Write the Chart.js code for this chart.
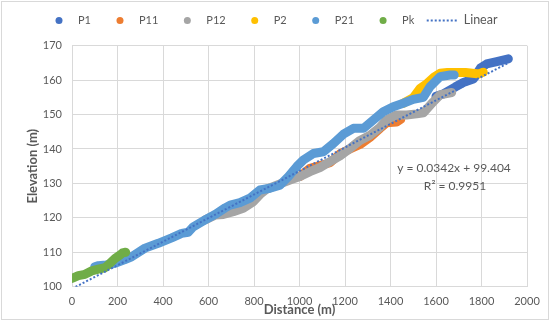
<!DOCTYPE html>
<html><head><meta charset="utf-8">
<script src="https://cdn.jsdelivr.net/npm/chart.js@4"></script>
<style>html,body{margin:0;padding:0;background:#fff;}#wrap{width:550px;height:323px;position:relative;}</style>
</head><body><div id="wrap"><canvas id="c" width="550" height="323"></canvas></div>
<script>
// ---- data ----
const seriesNames = ['P1', 'P11', 'P12', 'P2', 'P21', 'Pk'];
const seriesColors = ['#4472C4', '#ED7D31', '#A5A5A5', '#FFC000', '#5B9BD5', '#70AD47'];

const p1X = [1600, 1632, 1684, 1720, 1764, 1795, 1823, 1867, 1918];
const p1Y = [155.3, 156.0, 158.0, 159.3, 160.3, 163.5, 164.7, 165.4, 166.2];

const p11X = [1002, 1046, 1090, 1134, 1178, 1222, 1266, 1310, 1354, 1383, 1427, 1445];
const p11Y = [132.0, 134.4, 135.2, 136.0, 138.6, 140.0, 141.3, 143.4, 146.0, 147.6, 147.8, 148.6];

const p12X = [585, 629, 665, 709, 753, 797, 830, 855, 900, 958, 1002, 1046, 1090, 1134, 1178, 1222, 1266, 1310, 1354, 1383, 1427, 1471, 1515, 1545, 1588, 1618, 1669];
const p12Y = [119.4, 120.8, 121.0, 121.8, 122.8, 124.7, 127.0, 128.3, 129.5, 131.0, 132.0, 133.4, 134.6, 136.3, 138.0, 140.2, 142.5, 144.0, 146.3, 148.5, 149.9, 149.9, 150.2, 150.5, 153.7, 155.7, 156.4];

const p2X = [1456, 1500, 1530, 1560, 1590, 1618, 1650, 1690, 1730, 1760, 1790, 1808];
const p2Y = [153.3, 154.9, 157.6, 159.0, 160.8, 162.0, 162.2, 162.2, 162.2, 162.0, 161.8, 162.3];

const p21X = [100, 116, 150, 189, 230, 262, 321, 379, 438, 482, 511, 533, 585, 629, 673, 695, 738, 782, 826, 870, 914, 951, 988, 1017, 1061, 1105, 1149, 1193, 1237, 1281, 1324, 1368, 1412, 1456, 1500, 1544, 1574, 1618, 1662, 1680];
const p21Y = [105.8, 106.1, 106.3, 106.8, 107.8, 108.7, 111.2, 112.6, 114.2, 115.5, 115.8, 117.4, 119.4, 121.0, 122.9, 123.7, 124.4, 125.7, 128.1, 128.6, 129.5, 132.0, 134.9, 136.8, 138.7, 139.2, 141.6, 144.3, 146.0, 146.0, 148.4, 150.8, 152.3, 153.3, 154.4, 155.0, 158.1, 161.0, 161.5, 161.5];

const pkX = [0, 28, 57, 87, 116, 145, 167, 189, 211, 222, 236];
const pkY = [102.4, 103.2, 103.6, 104.6, 105.1, 105.5, 106.8, 108.2, 109.2, 109.8, 110.0];

const trendX = [0, 1918];
const trendY = [99.404, 165.0];
const trendLabel = 'Linear';
const equationText = 'y = 0.0342x + 99.404';
const r2Text = 'R\u00B2 = 0.9951';

const xTicks = [0, 200, 400, 600, 800, 1000, 1200, 1400, 1600, 1800, 2000];
const yTicks = [100, 110, 120, 130, 140, 150, 160, 170];
const xTitle = 'Distance (m)';
const yTitle = 'Elevation (m)';

// ---- build ----
const seriesXs = [p1X, p11X, p12X, p2X, p21X, pkX];
const seriesYs = [p1Y, p11Y, p12Y, p2Y, p21Y, pkY];
const toPts = (xs, ys) => xs.map((x, i) => ({x: x, y: ys[i]}));

const FONT = 'Lato, "Open Sans", sans-serif';
const TXT = '#595959';

const datasets = seriesNames.map((n, i) => ({
  label: n,
  data: toPts(seriesXs[i], seriesYs[i]),
  showLine: true,
  borderColor: seriesColors[i],
  backgroundColor: seriesColors[i],
  borderWidth: 9,
  borderJoinStyle: 'round',
  borderCapStyle: 'round',
  pointRadius: 0,
  tension: 0,
  order: seriesNames.length - i
}));
datasets.push({
  label: trendLabel,
  data: toPts(trendX, trendY),
  showLine: true,
  borderColor: '#4472C4',
  borderWidth: 2,
  borderDash: [2, 2],
  borderCapStyle: 'butt',
  pointRadius: 0,
  order: 0
});

const decor = {
  id: 'decor',
  beforeDraw(chart) {
    const ctx = chart.ctx;
    ctx.save();
    ctx.fillStyle = '#fff';
    ctx.fillRect(0, 0, chart.width, chart.height);
    ctx.restore();
  },
  afterDraw(chart) {
    const ctx = chart.ctx;
    ctx.save();
    ctx.strokeStyle = '#d9d9d9';
    ctx.lineWidth = 1;
    ctx.strokeRect(1.5, 1.5, 547, 318);
    const ly = 20.4;
    let lx = 59;
    ctx.textBaseline = 'middle';
    ctx.textAlign = 'left';
    ctx.font = '11px ' + FONT;
    seriesNames.forEach((n, i) => {
      ctx.fillStyle = seriesColors[i];
      ctx.beginPath();
      ctx.arc(lx, ly, 3.5, 0, Math.PI * 2);
      ctx.fill();
      ctx.fillStyle = TXT;
      ctx.fillText(n, lx + 19, ly);
      lx = lx + 19 + ctx.measureText(n).width + 29;
    });
    const ls = lx - 29 + 12.5;
    ctx.strokeStyle = '#4472C4';
    ctx.lineWidth = 2;
    ctx.setLineDash([2, 2]);
    ctx.beginPath();
    ctx.moveTo(ls, ly);
    ctx.lineTo(ls + 32, ly);
    ctx.stroke();
    ctx.setLineDash([]);
    ctx.font = '12.5px ' + FONT;
    ctx.fillStyle = TXT;
    ctx.fillText(trendLabel, ls + 37, ly);
    ctx.textAlign = 'center';
    ctx.font = '12px ' + FONT;
    ctx.fillText(equationText, 454, 168);
    ctx.fillText(r2Text, 455, 186);
    ctx.restore();
  }
};

new Chart(document.getElementById('c'), {
  type: 'scatter',
  data: {datasets},
  plugins: [decor],
  options: {
    responsive: false,
    devicePixelRatio: 1,
    animation: false,
    layout: {padding: {top: 45.7, right: 23, bottom: 0, left: 0}},
    plugins: {legend: {display: false}, tooltip: {enabled: false}},
    scales: {
      x: {
        type: 'linear', min: 0, max: 2000,
        afterBuildTicks: s => { s.ticks = xTicks.map(v => ({value: v})); },
        afterFit: s => { s.height = 36.3; },
        ticks: {color: TXT, font: {family: FONT, size: 11}, padding: 8, maxRotation: 0, callback: v => String(v)},
        grid: {color: '#d9d9d9', drawTicks: false},
        border: {color: '#d9d9d9'},
        title: {display: true, text: xTitle, color: TXT, font: {family: FONT, size: 13, weight: 'bold'}, padding: {top: 0, bottom: 5}}
      },
      y: {
        type: 'linear', min: 100, max: 170,
        afterBuildTicks: s => { s.ticks = yTicks.map(v => ({value: v})); },
        afterFit: s => { s.width = 72; },
        ticks: {color: TXT, font: {family: FONT, size: 11}, padding: 10, callback: v => String(v)},
        grid: {color: '#d9d9d9', drawTicks: false},
        border: {color: '#d9d9d9'},
        title: {display: true, text: yTitle, color: TXT, font: {family: FONT, size: 13, weight: 'bold'}, padding: {top: 25, bottom: 0}}
      }
    }
  }
});
</script>
</body></html>
